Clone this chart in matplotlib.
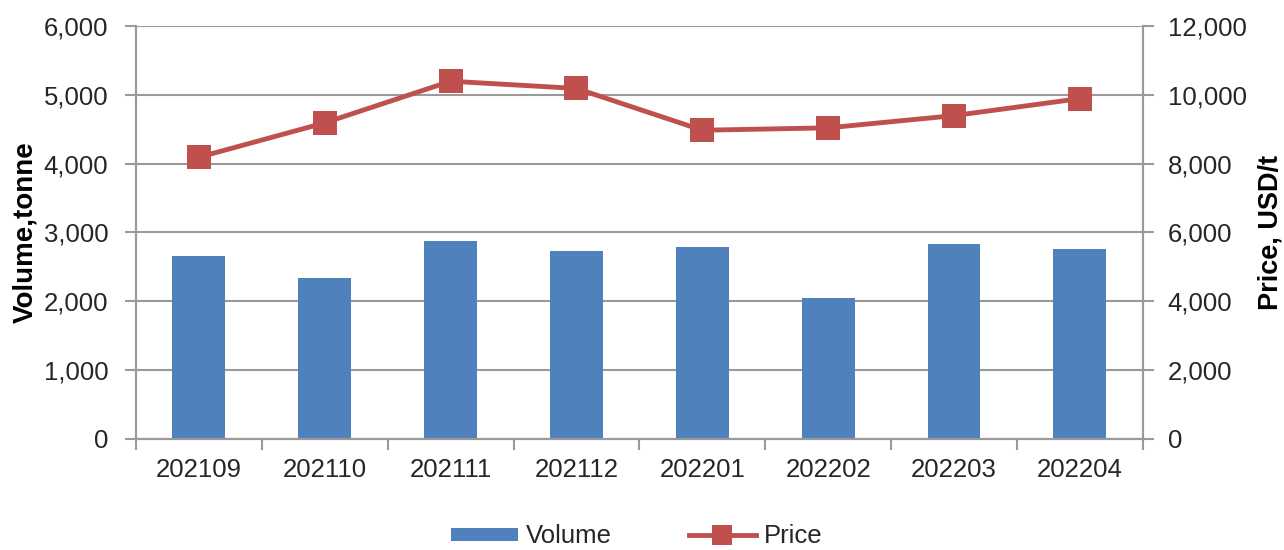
import matplotlib
matplotlib.use("Agg")
import matplotlib.pyplot as plt
from matplotlib.ticker import FuncFormatter, FixedLocator
from matplotlib.lines import Line2D
from matplotlib.patches import Patch

plt.rcParams['font.family'] = ['Liberation Sans', 'DejaVu Sans']

months = ["202109", "202110", "202111", "202112", "202201", "202202", "202203", "202204"]
volume = [2650, 2335, 2870, 2725, 2795, 2050, 2835, 2765]
price = [8185, 9185, 10395, 10185, 8970, 9040, 9395, 9890]

bar_color = "#4F81BD"
line_color = "#C0504D"
axis_gray = "#9a9a9a"
text_color = "#262626"
fs = 18.5

fig = plt.figure(figsize=(12.84, 5.5), dpi=100)
ax = fig.add_axes([0.1059, 0.2022, 0.7841, 0.7505])
ax2 = ax.twinx()

x = list(range(len(months)))
ax.bar(x, volume, width=0.42, color=bar_color, zorder=2)
ax2.plot(x, price, color=line_color, lw=3.5, marker="s", markersize=17,
         markeredgewidth=0, zorder=3)

ax.set_xlim(-0.5, len(months) - 0.5)
ax.set_ylim(0, 6000)
ax2.set_ylim(0, 12000)
ax.set_yticks(range(0, 6001, 1000))
ax2.set_yticks(range(0, 12001, 2000))
fmt = FuncFormatter(lambda v, p: f"{int(v):,}")
ax.yaxis.set_major_formatter(fmt)
ax2.yaxis.set_major_formatter(fmt)

ax.set_xticks(x)
ax.set_xticklabels(months)
ax.xaxis.set_minor_locator(FixedLocator([i - 0.5 for i in range(len(months) + 1)]))
ax.tick_params(axis="x", which="major", length=0, pad=14, labelsize=fs, labelcolor=text_color)
ax.tick_params(axis="x", which="minor", length=8, width=1.5, color=axis_gray)
ax.tick_params(axis="y", length=8, width=1.5, color=axis_gray, pad=12,
               labelsize=fs, labelcolor=text_color)
ax2.tick_params(axis="y", length=8, width=1.5, color=axis_gray, pad=10,
                labelsize=fs, labelcolor=text_color)

ax.grid(axis="y", color=axis_gray, lw=1.5, zorder=0)
ax.set_axisbelow(True)

for a in (ax, ax2):
    a.spines["top"].set_visible(False)
    for s in ("left", "right", "bottom"):
        a.spines[s].set_color(axis_gray)
        a.spines[s].set_linewidth(1.5)

ax.set_ylabel("Volume,tonne", fontsize=20, fontweight="bold", color="black", labelpad=4)
ax2.set_ylabel("Price, USD/t", fontsize=19.5, fontweight="bold", color="black", labelpad=8)

handles = [Patch(facecolor=bar_color, edgecolor="none"),
           Line2D([], [], color=line_color, lw=3.5, marker="s", markersize=14, markeredgewidth=0)]
fig.legend(handles, ["Volume", "Price"], loc="center", bbox_to_anchor=(0.496, 0.025),
           ncol=2, frameon=False, fontsize=fs, handlelength=2.6, handleheight=0.4,
           handletextpad=0.3, columnspacing=3.0, labelcolor=text_color)

fig.savefig("out.png", dpi=100, facecolor="white")
